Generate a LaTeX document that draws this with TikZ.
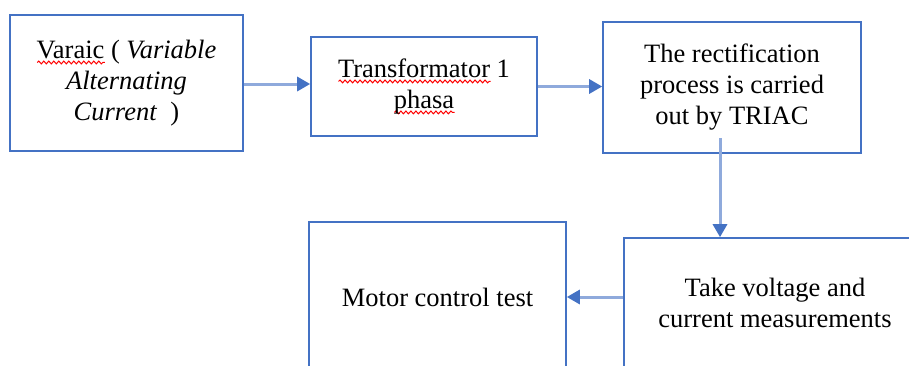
\documentclass[tikz,border=0pt]{standalone}
\usepackage{fontspec}
\setmainfont{Liberation Serif}
\usepackage{xcolor}
\usepackage{tikz}
\usetikzlibrary{arrows.meta, positioning, calc, decorations.pathmorphing}

\definecolor{boxblue}{HTML}{4472C4}
\definecolor{lineblue}{HTML}{8FAADC}
\definecolor{headblue}{HTML}{4472C4}

% red spell-check wave under a word
\newcommand\spellwave[1]{\setbox0\hbox{#1}\rlap{\raisebox{-6pt}{\tikz\draw[red, line width=1pt, decorate, decoration={snake, amplitude=1.4pt, segment length=5pt}] (0pt,0pt) -- (\wd0,0pt);}}\box0\relax}

\begin{document}
\begin{tikzpicture}[x=1pt, y=-1pt,
        base/.style={draw=boxblue, line width=1.6pt, rectangle, align=center, inner sep=0pt, font=\fontsize{26.5}{31}\selectfont},
        arrow/.style={-{Triangle[length=13pt, width=14pt, color=headblue]}, line width=3pt, draw=lineblue}
    ]
    \useasboundingbox (0,0) rectangle (909,365);
    \clip (0,0) rectangle (909,365);

    % Top Row
    \node[base, minimum width=233pt, minimum height=136pt] (varaic) at (126.5, 83) {\spellwave{Varaic} ( \textit{Variable} \\ \textit{Alternating} \\ \textit{Current}\ \ )};
    \node[base, minimum width=226pt, minimum height=99pt] (trafo) at (424, 86.5) {\spellwave{Transformator} 1 \\ \spellwave{phasa}};
    \node[base, minimum width=258pt, minimum height=131pt] (triac) at (732, 87.5) {The rectification \\ process is carried \\ out by TRIAC};

    % Bottom Row
    \node[base, minimum width=302pt, minimum height=130pt] (measure) at (775, 303) {Take voltage and \\ current measurements};
    \node[base, minimum width=257pt, minimum height=150pt] (motor) at (437.5, 297) {Motor control test};

    % Arrows
    \coordinate (tap) at (720, 138);
    \draw[arrow] (varaic.east |- 0,84) -- (trafo.west |- 0,84);
    \draw[arrow] (trafo.east) -- (trafo.east -| triac.west);
    \draw[arrow] (tap) -- (tap |- measure.north);
    \draw[arrow] (motor.east -| measure.west) -- (motor.east);
\end{tikzpicture}
\end{document}
